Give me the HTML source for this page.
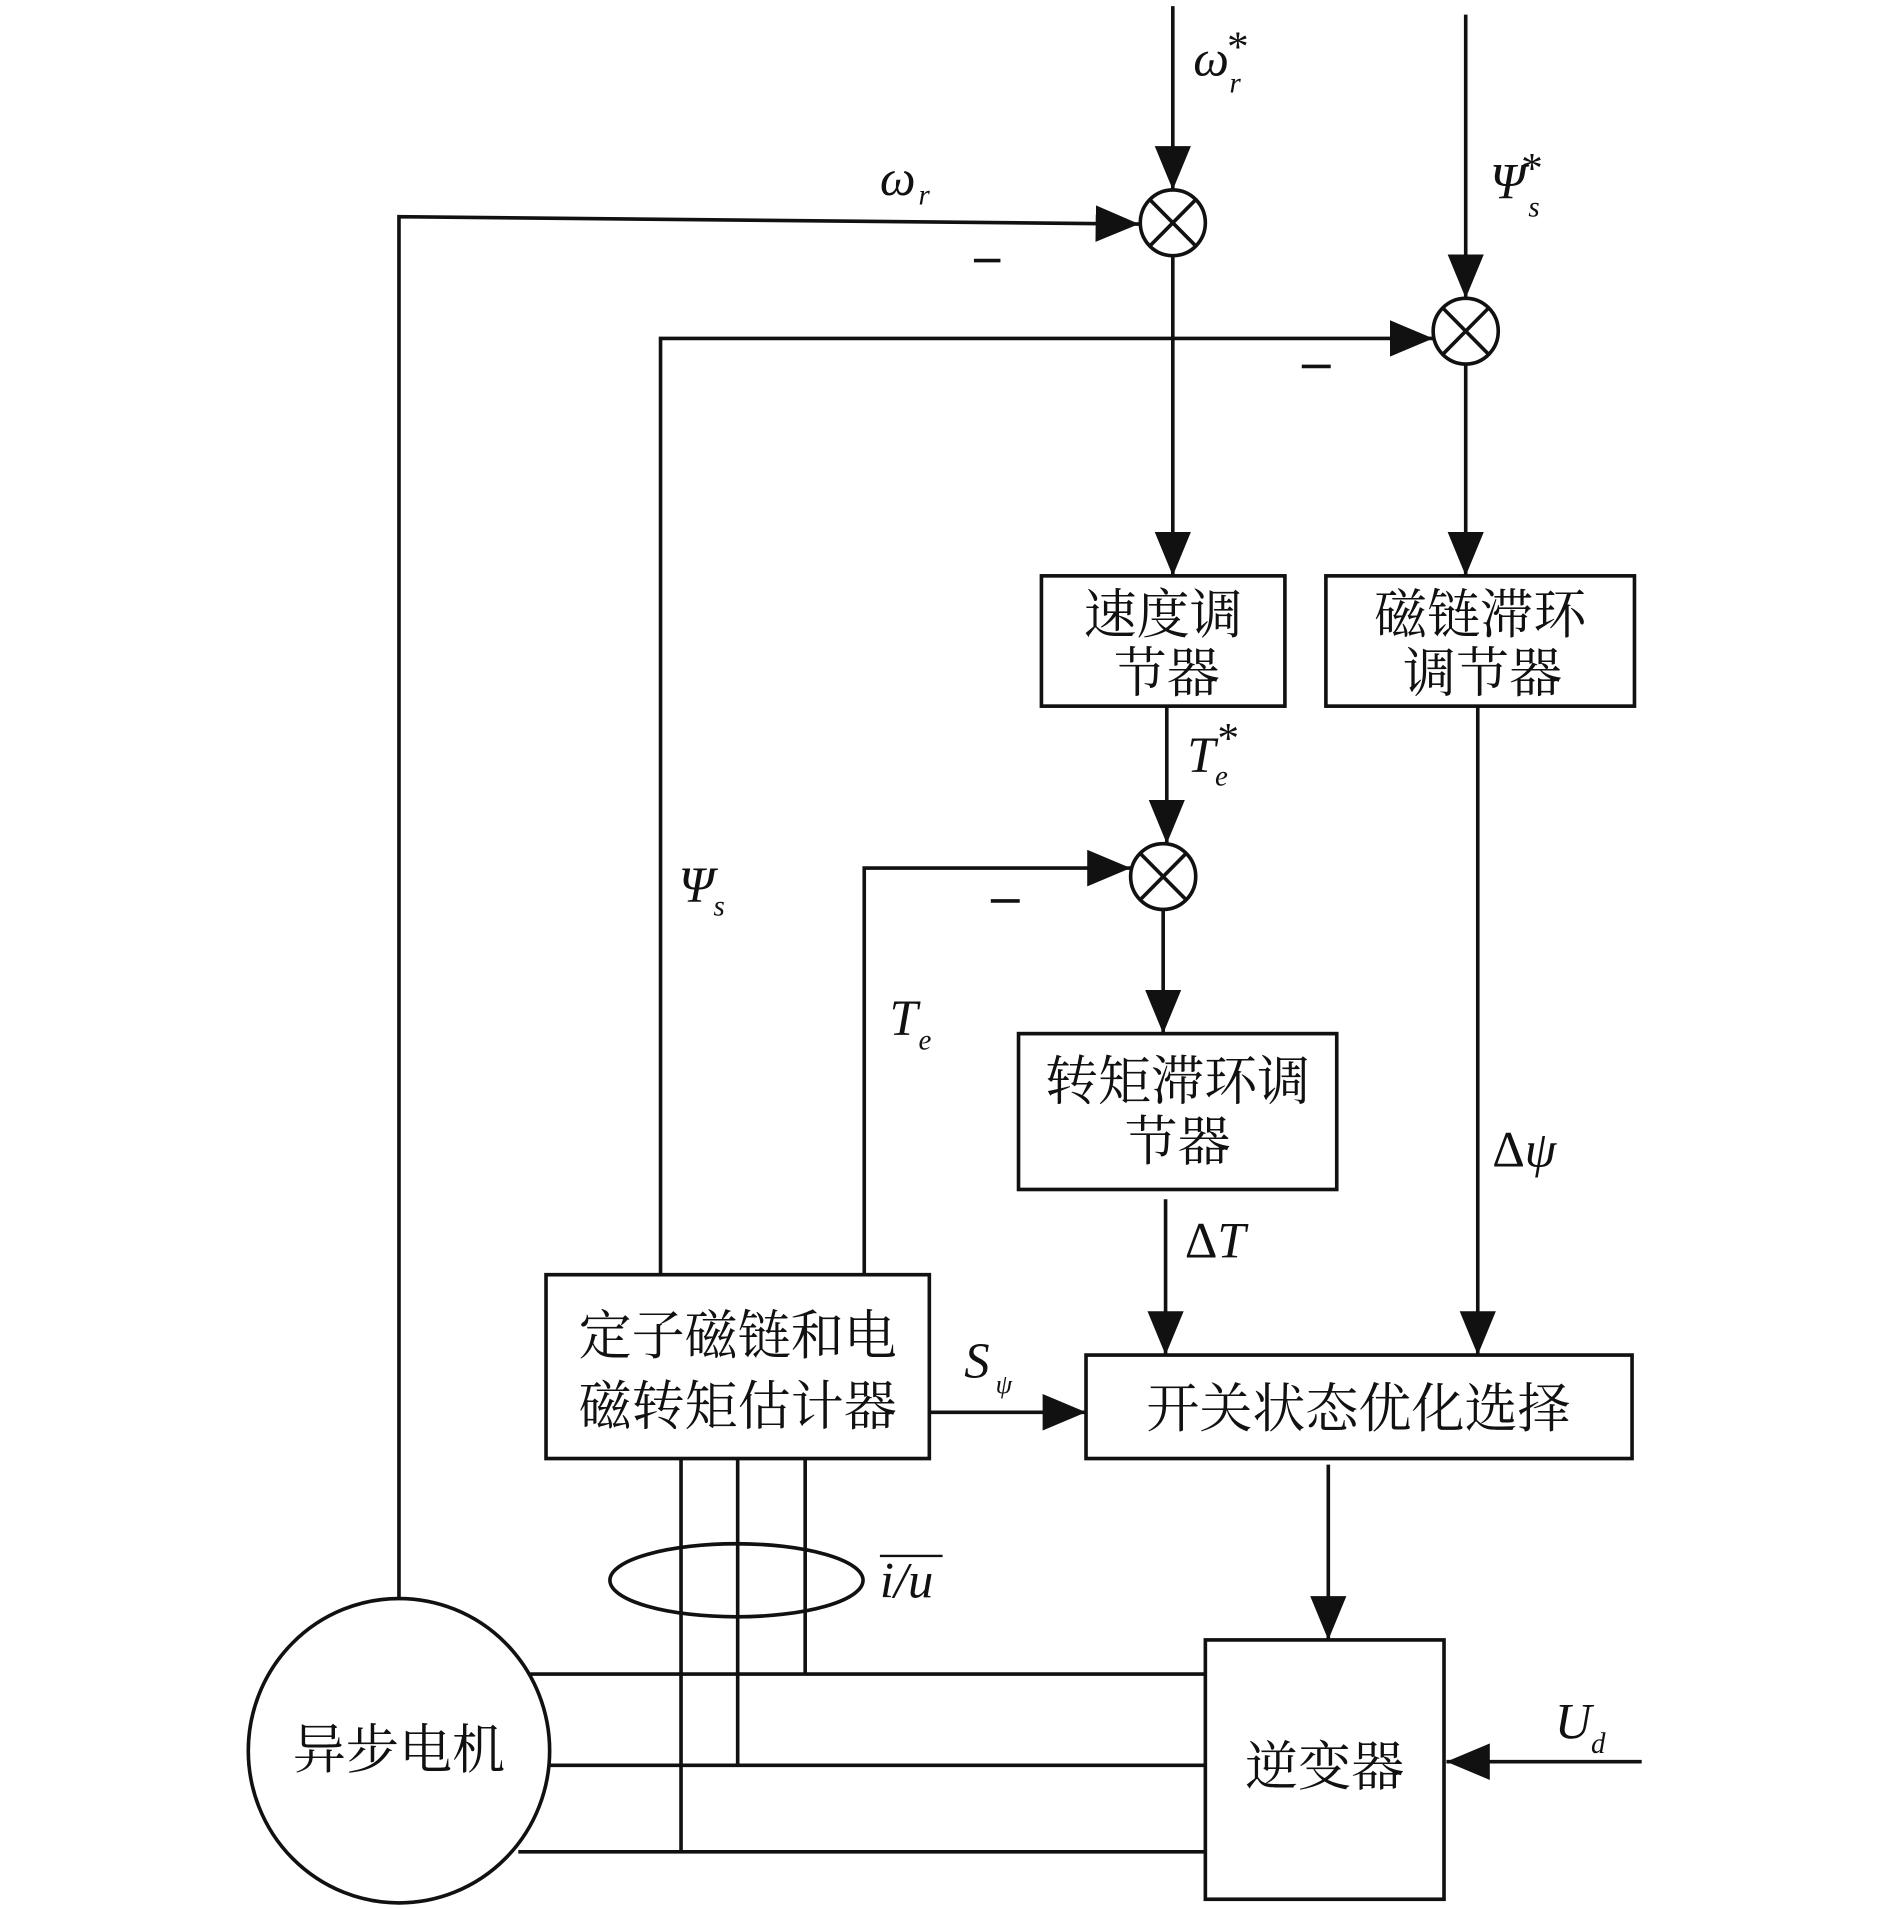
<!DOCTYPE html>
<html><head><meta charset="utf-8"><style>
html,body{margin:0;padding:0;background:#fff;}
svg{display:block;}
.c{font-family:"Liberation Serif","Noto Serif CJK SC",serif;font-size:44px;fill:#111;}
.m{font-family:"Liberation Serif",serif;font-style:italic;fill:#111;}
</style></head><body>
<svg width="1890" height="1909" viewBox="0 0 1568 1568" preserveAspectRatio="none" xmlns="http://www.w3.org/2000/svg">
<defs>
<marker id="a" viewBox="0 0 36 30" refX="36" refY="15" markerWidth="36" markerHeight="30" markerUnits="userSpaceOnUse" orient="auto">
<path d="M0,0 L36,15 L0,30 Z" fill="#111"/></marker>
</defs>
<g stroke="#111" stroke-width="3" fill="none">
<!-- sum1 -->
<line x1="973" y1="5" x2="973" y2="156" marker-end="url(#a)"/>
<circle cx="973" cy="183" r="27"/>
<line x1="954" y1="164" x2="992" y2="202"/><line x1="992" y1="164" x2="954" y2="202"/>
<polyline points="331,1313 331,178 945,184" marker-end="url(#a)"/>
<line x1="973" y1="210" x2="973" y2="473" marker-end="url(#a)"/>
<!-- sum2 -->
<line x1="1216" y1="12" x2="1216" y2="245" marker-end="url(#a)"/>
<circle cx="1216" cy="272" r="27"/>
<line x1="1197" y1="253" x2="1235" y2="291"/><line x1="1235" y1="253" x2="1197" y2="291"/>
<polyline points="548,1047 548,278 1189,278" marker-end="url(#a)"/>
<line x1="1216" y1="299" x2="1216" y2="473" marker-end="url(#a)"/>
<!-- boxes -->
<rect x="864" y="473" width="202" height="107"/>
<rect x="1100" y="473" width="256" height="107"/>
<line x1="968" y1="580" x2="968" y2="693" marker-end="url(#a)"/>
<circle cx="965" cy="720" r="27"/>
<line x1="946" y1="701" x2="984" y2="739"/><line x1="984" y1="701" x2="946" y2="739"/>
<polyline points="717,1047 717,713 938,713" marker-end="url(#a)"/>
<line x1="965" y1="747" x2="965" y2="849" marker-end="url(#a)"/>
<rect x="845" y="849" width="264" height="128"/>
<line x1="967" y1="985" x2="967" y2="1113" marker-end="url(#a)"/>
<line x1="1226" y1="580" x2="1226" y2="1113" marker-end="url(#a)"/>
<rect x="901" y="1113" width="453" height="85"/>
<rect x="453" y="1047" width="318" height="151"/>
<line x1="771" y1="1160" x2="901" y2="1160" marker-end="url(#a)"/>
<line x1="1102" y1="1203" x2="1102" y2="1347" marker-end="url(#a)"/>
<rect x="1000" y="1347" width="198" height="213"/>
<line x1="1362" y1="1447" x2="1200" y2="1447" marker-end="url(#a)"/>
<circle cx="331" cy="1438" r="125"/>
<line x1="440" y1="1375" x2="1000" y2="1375"/>
<line x1="456" y1="1450" x2="1000" y2="1450"/>
<line x1="430" y1="1521" x2="1000" y2="1521"/>
<line x1="565" y1="1198" x2="565" y2="1521"/>
<line x1="612" y1="1198" x2="612" y2="1450"/>
<line x1="668" y1="1198" x2="668" y2="1375"/>
<ellipse cx="611" cy="1298" rx="105" ry="30"/>
<line x1="808" y1="214" x2="830" y2="214"/>
<line x1="1080" y1="301" x2="1104" y2="301"/>
<line x1="822" y1="740" x2="846" y2="740"/>
<line x1="730" y1="1278" x2="782" y2="1278" stroke-width="2"/>
</g>
<g class="c" text-anchor="middle">
<text x="965" y="520">速度调</text><text x="968" y="568">节器</text>
<text x="1228" y="520">磁链滞环</text><text x="1230" y="568">调节器</text>
<text x="977" y="903">转矩滞环调</text><text x="977" y="953">节器</text>
<text x="612" y="1112">定子磁链和电</text><text x="612" y="1170">磁转矩估计器</text>
<text x="1127" y="1172">开关状态优化选择</text>
<text x="1099" y="1466">逆变器</text>
<text x="331" y="1452">异步电机</text>
</g>
<g class="m">
<text x="990" y="62" font-size="42">ω</text><text x="1020" y="76" font-size="24">r</text><text x="1018" y="50" font-size="36" font-style="normal">*</text>
<text x="730" y="160" font-size="42">ω</text><text x="762" y="168" font-size="24">r</text>
<text x="1236" y="163" font-size="42">Ψ</text><text x="1268" y="178" font-size="24">s</text><text x="1262" y="150" font-size="36" font-style="normal">*</text>
<text x="563" y="741" font-size="42">Ψ</text><text x="592" y="752" font-size="24">s</text>
<text x="985" y="634" font-size="42">T</text><text x="1008" y="645" font-size="24">e</text><text x="1010" y="618" font-size="36" font-style="normal">*</text>
<text x="738" y="850" font-size="42">T</text><text x="762" y="862" font-size="24">e</text>
<text x="983" y="1033" font-size="42"><tspan font-style="normal">Δ</tspan>T</text>
<text x="1238" y="958" font-size="42"><tspan font-style="normal">Δ</tspan>ψ</text>
<text x="800" y="1132" font-size="42">S</text><text x="826" y="1144" font-size="22">ψ</text>
<text x="730" y="1312" font-size="42">i/u</text>
<text x="1290" y="1428" font-size="42">U</text><text x="1320" y="1440" font-size="24">d</text>
</g>
</svg>
</body></html>
